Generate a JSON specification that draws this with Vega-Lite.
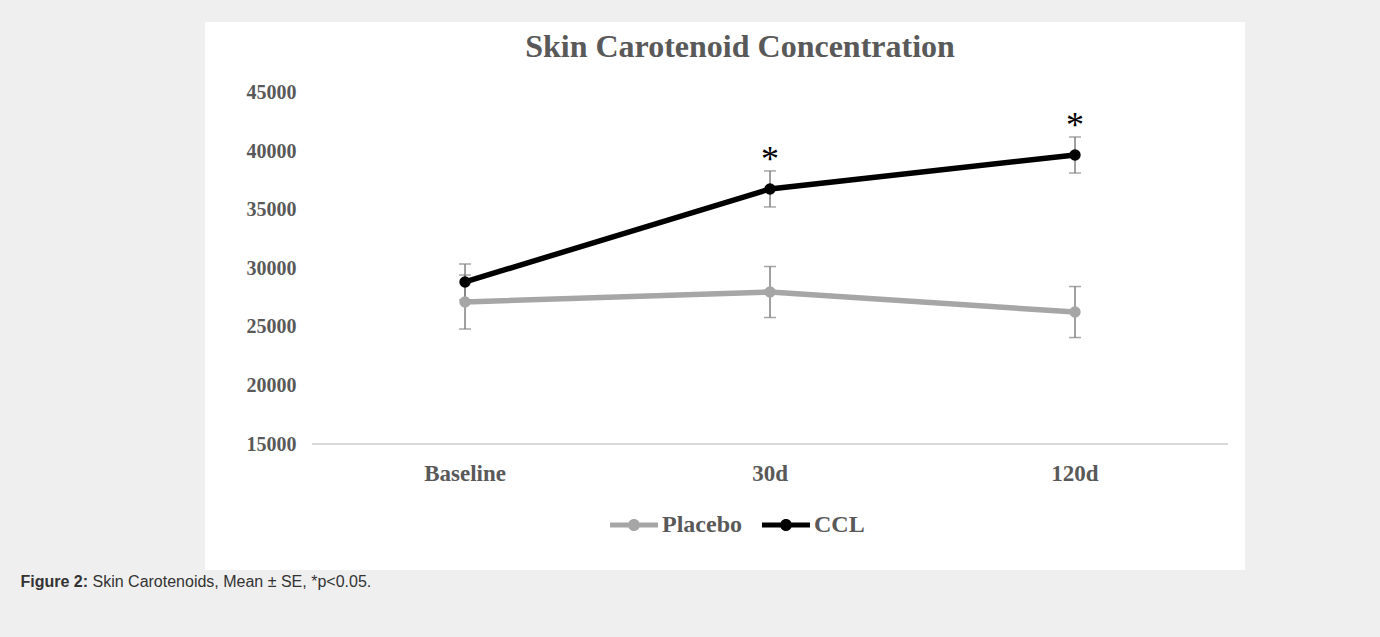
{
  "$schema": "https://vega.github.io/schema/vega-lite/v6.json",
  "width": 1040,
  "height": 548,
  "autosize": {"type": "none"},
  "padding": {"left": 205, "top": 22, "right": 135, "bottom": 67},
  "background": "#efefef",
  "config": {
    "view": {"fill": "white", "stroke": null},
    "font": "Liberation Serif",
    "legend": {
      "orient": "none",
      "legendX": 405,
      "legendY": 479,
      "direction": "horizontal",
      "title": null,
      "symbolType": "M-1,-0.1L1,-0.1L1,0.1L-1,0.1Z M0.25,0 A0.25,0.25 0 1,1 -0.25,0 A0.25,0.25 0 1,1 0.25,0 Z",
      "symbolSize": 2304,
      "symbolStrokeWidth": 0,
      "symbolOpacity": 1,
      "labelFont": "Liberation Serif",
      "labelFontSize": 24,
      "labelFontWeight": "bold",
      "labelColor": "#595959",
      "labelOffset": 4,
      "columnPadding": 20
    }
  },
  "title": {
    "text": "Skin Carotenoid Concentration",
    "anchor": "middle",
    "offset": -57,
    "baseline": "middle",
    "font": "Liberation Serif",
    "fontSize": 32,
    "fontWeight": "bold",
    "color": "#595959",
    "dx": 15
  },
  "data": {
    "values": [
      {"group": "Placebo", "time": "Baseline", "mean": 27140, "lo": 24830, "hi": 29450, "sig": ""},
      {"group": "Placebo", "time": "30d", "mean": 27990, "lo": 25810, "hi": 30170, "sig": ""},
      {"group": "Placebo", "time": "120d", "mean": 26280, "lo": 24100, "hi": 28460, "sig": ""},
      {"group": "CCL", "time": "Baseline", "mean": 28850, "lo": 27310, "hi": 30390, "sig": ""},
      {"group": "CCL", "time": "30d", "mean": 36800, "lo": 35260, "hi": 38340, "sig": "*"},
      {"group": "CCL", "time": "120d", "mean": 39700, "lo": 38160, "hi": 41240, "sig": "*"}
    ]
  },
  "layer": [
    {
      "mark": {"type": "rule", "color": "#d9d9d9", "strokeWidth": 1.5},
      "encoding": {
        "x": {
          "datum": "Baseline",
          "type": "nominal",
          "bandPosition": 0,
          "title": "Figure 2:",
          "scale": {"type": "band", "domain": ["Baseline", "30d", "120d"], "paddingInner": 0, "paddingOuter": 0.205, "align": 0.86},
          "axis": {
            "orient": "bottom",
            "offset": -126,
            "domain": false,
            "ticks": false,
            "grid": false,
            "labelPadding": 18,
            "labelFont": "Liberation Serif",
            "labelFontSize": 23,
            "labelFontWeight": "bold",
            "labelColor": "#595959",
            "labelAngle": 0,
            "titleFont": "Liberation Sans",
            "titleFontSize": 16,
            "titleFontWeight": "bold",
            "titleColor": "#333333",
            "titleX": -185,
            "titleY": 137,
            "titleAlign": "left",
            "titleBaseline": "middle"
          }
        },
        "x2": {"datum": "120d", "bandPosition": 1},
        "y": {
          "datum": 15000,
          "type": "quantitative",
          "title": "Skin Carotenoids, Mean ± SE, *p<0.05.",
          "scale": {"domain": [4231, 51068], "nice": false, "zero": false},
          "axis": {
            "orient": "left",
            "offset": -108,
            "values": [15000, 20000, 25000, 30000, 35000, 40000, 45000],
            "format": "d",
            "domain": false,
            "ticks": false,
            "grid": false,
            "labelPadding": 17,
            "labelFont": "Liberation Serif",
            "labelFontSize": 20,
            "labelFontWeight": "bold",
            "labelColor": "#595959",
            "titleFont": "Liberation Sans",
            "titleFontSize": 16,
            "titleFontWeight": "normal",
            "titleColor": "#333333",
            "titleAngle": 0,
            "titleX": -221,
            "titleY": 559,
            "titleAlign": "left",
            "titleBaseline": "middle"
          }
        }
      }
    },
    {
      "mark": {"type": "rule", "color": "#808080", "strokeWidth": 1.5},
      "encoding": {
        "x": {"field": "time", "type": "nominal", "title": "Figure 2:"},
        "y": {"field": "lo", "type": "quantitative", "title": "Skin Carotenoids, Mean ± SE, *p<0.05."},
        "y2": {"field": "hi"}
      }
    },
    {
      "mark": {"type": "tick", "color": "#808080", "thickness": 1.5, "size": 12},
      "encoding": {
        "x": {"field": "time", "type": "nominal", "title": "Figure 2:"},
        "y": {"field": "lo", "type": "quantitative", "title": "Skin Carotenoids, Mean ± SE, *p<0.05."}
      }
    },
    {
      "mark": {"type": "tick", "color": "#808080", "thickness": 1.5, "size": 12},
      "encoding": {
        "x": {"field": "time", "type": "nominal", "title": "Figure 2:"},
        "y": {"field": "hi", "type": "quantitative", "title": "Skin Carotenoids, Mean ± SE, *p<0.05."}
      }
    },
    {
      "mark": {"type": "line", "strokeWidth": 5.5},
      "encoding": {
        "x": {"field": "time", "type": "nominal", "title": "Figure 2:"},
        "y": {"field": "mean", "type": "quantitative", "title": "Skin Carotenoids, Mean ± SE, *p<0.05."},
        "stroke": {
          "field": "group",
          "type": "nominal",
          "scale": {"domain": ["Placebo", "CCL"], "range": ["#a6a6a6", "#000000"]}
        }
      }
    },
    {
      "mark": {"type": "point", "filled": true, "size": 130, "opacity": 1},
      "encoding": {
        "x": {"field": "time", "type": "nominal", "title": "Figure 2:"},
        "y": {"field": "mean", "type": "quantitative", "title": "Skin Carotenoids, Mean ± SE, *p<0.05."},
        "color": {
          "field": "group",
          "type": "nominal",
          "scale": {"domain": ["Placebo", "CCL"], "range": ["#a6a6a6", "#000000"]}
        }
      }
    },
    {
      "mark": {"type": "text", "font": "Liberation Serif", "fontSize": 36, "color": "#000000", "baseline": "alphabetic", "dy": 0},
      "encoding": {
        "x": {"field": "time", "type": "nominal", "title": "Figure 2:"},
        "y": {"field": "hi", "type": "quantitative", "title": "Skin Carotenoids, Mean ± SE, *p<0.05."},
        "text": {"field": "sig"}
      }
    }
  ]
}
